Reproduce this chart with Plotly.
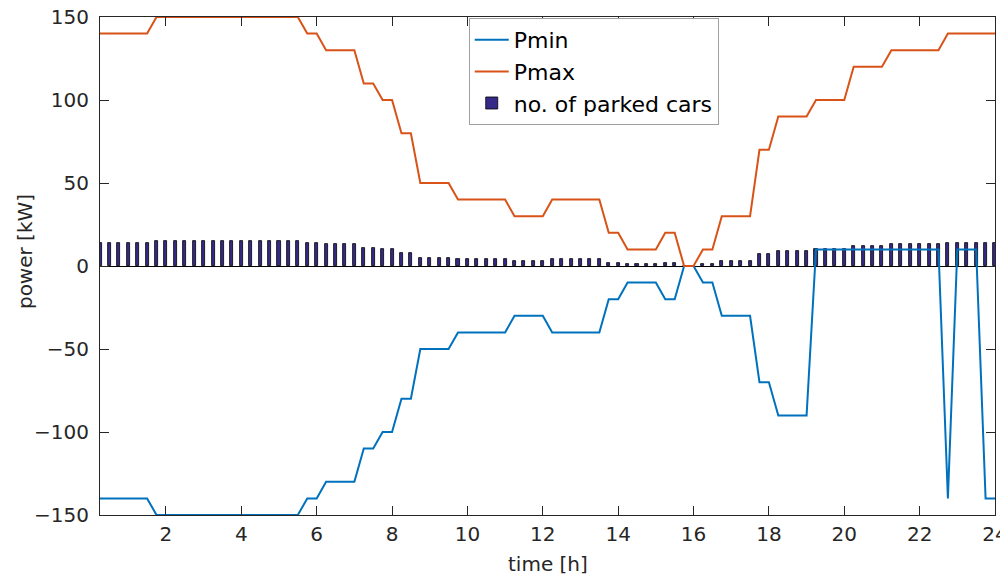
import plotly.graph_objects as go

time_h = [0.25, 0.5, 0.75, 1.0, 1.25, 1.5, 1.75, 2.0,
          2.25, 2.5, 2.75, 3.0, 3.25, 3.5, 3.75, 4.0,
          4.25, 4.5, 4.75, 5.0, 5.25, 5.5, 5.75, 6.0,
          6.25, 6.5, 6.75, 7.0, 7.25, 7.5, 7.75, 8.0,
          8.25, 8.5, 8.75, 9.0, 9.25, 9.5, 9.75, 10.0,
          10.25, 10.5, 10.75, 11.0, 11.25, 11.5, 11.75, 12.0,
          12.25, 12.5, 12.75, 13.0, 13.25, 13.5, 13.75, 14.0,
          14.25, 14.5, 14.75, 15.0, 15.25, 15.5, 15.75, 16.0,
          16.25, 16.5, 16.75, 17.0, 17.25, 17.5, 17.75, 18.0,
          18.25, 18.5, 18.75, 19.0, 19.25, 19.5, 19.75, 20.0,
          20.25, 20.5, 20.75, 21.0, 21.25, 21.5, 21.75, 22.0,
          22.25, 22.5, 22.75, 23.0, 23.25, 23.5, 23.75, 24.0]

p_max = [140, 140, 140, 140, 140, 140, 150, 150,
         150, 150, 150, 150, 150, 150, 150, 150,
         150, 150, 150, 150, 150, 150, 140, 140,
         130, 130, 130, 130, 110, 110, 100, 100,
         80, 80, 50, 50, 50, 50, 40, 40,
         40, 40, 40, 40, 30, 30, 30, 30,
         40, 40, 40, 40, 40, 40, 20, 20,
         10, 10, 10, 10, 20, 20, 0, 0,
         10, 10, 30, 30, 30, 30, 70, 70,
         90, 90, 90, 90, 100, 100, 100, 100,
         120, 120, 120, 120, 130, 130, 130, 130,
         130, 130, 140, 140, 140, 140, 140, 140]

p_min = [-140, -140, -140, -140, -140, -140, -150, -150,
         -150, -150, -150, -150, -150, -150, -150, -150,
         -150, -150, -150, -150, -150, -150, -140, -140,
         -130, -130, -130, -130, -110, -110, -100, -100,
         -80, -80, -50, -50, -50, -50, -40, -40,
         -40, -40, -40, -40, -30, -30, -30, -30,
         -40, -40, -40, -40, -40, -40, -20, -20,
         -10, -10, -10, -10, -20, -20, 0, 0,
         -10, -10, -30, -30, -30, -30, -70, -70,
         -90, -90, -90, -90, 10, 10, 10, 10,
         10, 10, 10, 10, 10, 10, 10, 10,
         10, 10, -140, 10, 10, 10, -140, -140]

parked_cars = [14, 14, 14, 14, 14, 14, 15, 15,
               15, 15, 15, 15, 15, 15, 15, 15,
               15, 15, 15, 15, 15, 15, 14, 14,
               13, 13, 13, 13, 11, 11, 10, 10,
               8, 8, 5, 5, 5, 5, 4, 4,
               4, 4, 4, 4, 3, 3, 3, 3,
               4, 4, 4, 4, 4, 4, 2, 2,
               1, 1, 1, 1, 2, 2, 0, 0,
               1, 1, 3, 3, 3, 3, 7, 7,
               9, 9, 9, 9, 10, 10, 10, 10,
               12, 12, 12, 12, 13, 13, 13, 13,
               13, 13, 14, 14, 14, 14, 14, 14]

x_ticks = [2, 4, 6, 8, 10, 12, 14, 16, 18, 20, 22, 24]
y_ticks = [-150, -100, -50, 0, 50, 100, 150]

FONT = "DejaVu Sans"
AX = "#262626"

fig = go.Figure()
fig.add_trace(go.Scatter(x=time_h, y=p_min, mode="lines", name="Pmin",
                         line=dict(color="#0072BD", width=2)))
fig.add_trace(go.Scatter(x=time_h, y=p_max, mode="lines", name="Pmax",
                         line=dict(color="#D95319", width=2)))
fig.add_trace(go.Bar(x=time_h, y=parked_cars, name="no. of parked cars",
                     width=0.08,
                     marker=dict(color="#352a87", line=dict(color="black", width=0.8))))

# page body adds an 8px margin, so the figure is sized/offset to compensate
fig.update_layout(
    width=1000, height=568,
    margin=dict(l=92, r=13, t=9, b=61, autoexpand=False),
    paper_bgcolor="white", plot_bgcolor="white",
    font=dict(family=FONT, size=20, color=AX),
    showlegend=True,
    legend=dict(x=0.412, y=0.998, xanchor="left", yanchor="top",
                bgcolor="white", bordercolor="#a0a0a0", borderwidth=1,
                font=dict(family=FONT, size=22, color="black"),
                tracegroupgap=0, itemwidth=34),
    bargap=0,
)
fig.update_xaxes(range=[0.25, 24], tickvals=x_ticks, ticks="inside", ticklen=9,
                 tickcolor=AX, showline=True, linecolor=AX, linewidth=1,
                 mirror="ticks", showgrid=False, zeroline=False, automargin=False,
                 ticklabeloverflow="allow",
                 ticklabelstandoff=1, tickfont=dict(size=20, color=AX))
fig.update_yaxes(range=[-150, 150], tickvals=y_ticks, ticks="inside", ticklen=9,
                 tickcolor=AX, showline=True, linecolor=AX, linewidth=1,
                 mirror="ticks", showgrid=False, zeroline=True, zerolinecolor="black",
                 zerolinewidth=1, automargin=False, ticklabeloverflow="allow",
                 ticklabelstandoff=6, tickfont=dict(size=20, color=AX))

fig.add_annotation(text="time [h]", xref="paper", yref="paper", x=0.5, y=-0.098,
                   xanchor="center", yanchor="middle", showarrow=False,
                   font=dict(family=FONT, size=20, color=AX))
fig.add_annotation(text="power [kW]", xref="paper", yref="paper", x=-0.0838, y=0.53,
                   xanchor="center", yanchor="middle", textangle=-90, showarrow=False,
                   font=dict(family=FONT, size=20, color=AX))

fig.write_html("out.html")
